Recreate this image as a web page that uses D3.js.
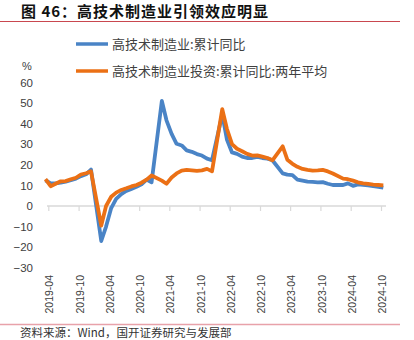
<!DOCTYPE html>
<html>
<head>
<meta charset="utf-8">
<script src="https://cdn.jsdelivr.net/npm/d3@7"></script>
<style>
  html, body { margin: 0; padding: 0; background: #fff; }
  svg { display: block; }
</style>
</head>
<body>
<script>
// ---------- data ----------
const months = [
  "2019-03","2019-04","2019-05","2019-06","2019-07","2019-08","2019-09","2019-10","2019-11","2019-12",
  "2020-02","2020-03","2020-04","2020-05","2020-06","2020-07","2020-08","2020-09","2020-10","2020-11","2020-12",
  "2021-02","2021-03","2021-04","2021-05","2021-06","2021-07","2021-08","2021-09","2021-10","2021-11","2021-12",
  "2022-02","2022-03","2022-04","2022-05","2022-06","2022-07","2022-08","2022-09","2022-10","2022-11","2022-12",
  "2023-02","2023-03","2023-04","2023-05","2023-06","2023-07","2023-08","2023-09","2023-10","2023-11","2023-12",
  "2024-02","2024-03","2024-04","2024-05","2024-06","2024-07","2024-08","2024-09","2024-10"
];
const hiTechYoY = [
  12.5, 11, 11, 11.3, 11.8, 12.5, 13.3, 14.5, 15.4, 17.7,
  -17, -10, -1, 3.5, 5.8, 7.3, 8.3, 9.3, 10.5, 12.8, 11.5,
  51, 41.6, 35, 30.2, 29.4, 27, 26.3, 25.2, 24.5, 23, 22.2,
  44.5, 32.3, 26, 25.3, 24, 23.3, 23.3, 23.8, 23.3, 23, 22.2,
  15.8, 15.2, 15, 12.8, 12.3, 11.8, 11.7, 11.5, 11.6, 10.8, 10.2,
  10.2, 11, 9.8, 10.5, 10.3, 10, 9.6, 9.3, 8.9
];
const hiTechInvest2Y = [
  13, 9.6, 10.8, 12, 12.1, 13, 13.7, 15.3, 15.9, 16.8,
  -9.5, 0, 4.5, 6.5, 7.8, 8.6, 9.5, 10.2, 11.3, 12.8, 14.8,
  12.3, 10.8, 13.8, 15.8, 17.2, 17.5, 17.3, 17.1, 17.3, 18, 16.8,
  47, 37.5, 30, 27.8, 26.6, 25.3, 24.5, 24.6, 24, 23.3, 22.2,
  29, 22.5, 20.5, 19, 18, 17.5, 17.2, 17.3, 17.5, 16.8, 15.8,
  13.3, 13, 12.3, 11.5, 11, 10.7, 10.4, 10.2, 10
];
const seriesNames = ["高技术制造业:累计同比", "高技术制造业投资:累计同比:两年平均"];
const seriesColors = ["#4a84c6", "#eb7015"];
const xTickLabels = ["2019-04","2019-10","2020-04","2020-10","2021-04","2021-10","2022-04","2022-10","2023-04","2023-10","2024-04","2024-10"];
const yTicks = [60, 50, 40, 30, 20, 10, 0, -10, -20, -30];
const titleText = "图 46：高技术制造业引领效应明显";
const sourceText = "资料来源：Wind，国开证券研究与发展部";

// ---------- drawing ----------
const W = 414, H = 340;
const svg = d3.select("body").append("svg").attr("width", W).attr("height", H);

const parseM = s => { const [y, m] = s.split("-").map(Number); return new Date(y, m - 1, 15); };
const parseTick = s => { const [y, m] = s.split("-").map(Number); return new Date(y, m - 1, 1); };

const x = d3.scaleTime()
  .domain([parseTick(xTickLabels[0]), parseTick(xTickLabels[xTickLabels.length - 1])])
  .range([48.3, 381]);
const y = d3.scaleLinear().domain([-30, 60]).range([267.8, 82.4]);

// title
svg.append("text")
  .attr("x", 21).attr("y", 17)
  .attr("font-family", "'Noto Sans CJK SC', sans-serif")
  .attr("font-weight", "bold")
  .attr("font-size", 15)
  .attr("letter-spacing", "1px")
  .attr("fill", "#111")
  .text(titleText);
svg.append("line").attr("x1", 0).attr("x2", 400).attr("y1", 21.5).attr("y2", 21.5)
  .attr("stroke", "#c9484f").attr("stroke-width", 1);

// legend
const legY = [44, 71];
seriesNames.forEach((n, i) => {
  svg.append("line").attr("x1", 76).attr("x2", 108).attr("y1", legY[i]).attr("y2", legY[i])
    .attr("stroke", seriesColors[i]).attr("stroke-width", 3.5);
  svg.append("text").attr("x", 112).attr("y", legY[i]).attr("dy", "0.36em")
    .attr("font-family", "'Noto Sans CJK SC', sans-serif").attr("font-size", 13)
    .attr("fill", "#404040").text(n);
});

// unit
svg.append("text").attr("x", 27).attr("y", 66).attr("dy", "0.35em").attr("text-anchor", "middle")
  .attr("font-family", "'Liberation Sans', Arial, sans-serif").attr("font-size", 11)
  .attr("fill", "#404040").text("%");

// y axis labels (no line)
const yAxis = d3.axisLeft(y).tickValues(yTicks).tickSize(0).tickPadding(0).tickFormat(d3.format("d"));
const gy = svg.append("g").attr("transform", "translate(33,0)").call(yAxis);
gy.select(".domain").remove();
gy.selectAll("text").attr("font-family", "'Liberation Sans', Arial, sans-serif").attr("font-size", 11.5).attr("fill", "#404040");

// x axis at zero
const xAxis = d3.axisBottom(x).tickValues(xTickLabels.map(parseTick)).tickSize(5).tickFormat("");
const gx = svg.append("g").attr("transform", `translate(0,${y(0)})`).call(xAxis);
gx.select(".domain").attr("d", `M47,0H386`).attr("stroke", "#d9d9d9").attr("stroke-width", 1.5);
gx.selectAll(".tick line").attr("stroke", "#d9d9d9").attr("stroke-width", 1.2);

// rotated x labels at bottom
svg.append("g").selectAll("text").data(xTickLabels).join("text")
  .attr("transform", d => `translate(${x(parseTick(d)) + 1.5},275) rotate(-90)`)
  .attr("text-anchor", "end").attr("dy", "0.35em")
  .attr("font-family", "'Liberation Sans', Arial, sans-serif").attr("font-size", 10.5)
  .attr("fill", "#404040").text(d => d);

// lines
const dates = months.map(parseM);
const line = d3.line().x((d, i) => x(dates[i])).y(d => y(d)).curve(d3.curveLinear);
[hiTechYoY, hiTechInvest2Y].forEach((vals, i) => {
  svg.append("path").datum(vals).attr("d", line)
    .attr("fill", "none").attr("stroke", seriesColors[i]).attr("stroke-width", 3.8)
    .attr("stroke-linejoin", "round").attr("stroke-linecap", "butt");
});

// footer
svg.append("line").attr("x1", 0).attr("x2", 400).attr("y1", 324.5).attr("y2", 324.5)
  .attr("stroke", "#e8a2aa").attr("stroke-width", 1.6);
svg.append("text").attr("x", 20).attr("y", 337)
  .attr("font-family", "'Noto Sans CJK SC', sans-serif").attr("font-size", 11.5)
  .attr("fill", "#333").text(sourceText);
</script>
</body>
</html>
